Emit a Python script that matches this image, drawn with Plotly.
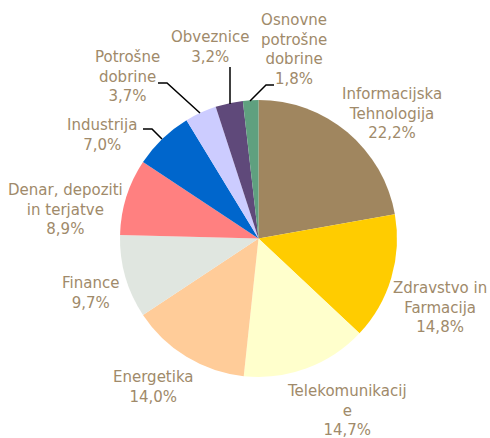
import plotly.graph_objects as go

# ---- data ----
categories = [
    "Informacijska Tehnologija",
    "Zdravstvo in Farmacija",
    "Telekomunikacije",
    "Energetika",
    "Finance",
    "Denar, depoziti in terjatve",
    "Industrija",
    "Potrošne dobrine",
    "Obveznice",
    "Osnovne potrošne dobrine",
]
values = [22.2, 14.8, 14.7, 14.0, 9.7, 8.9, 7.0, 3.7, 3.2, 1.8]
label_lines = [
    "Informacijska<br>Tehnologija",
    "Zdravstvo in<br>Farmacija",
    "Telekomunikacij<br>e",
    "Energetika",
    "Finance",
    "Denar, depoziti<br>in terjatve",
    "Industrija",
    "Potrošne<br>dobrine",
    "Obveznice",
    "Osnovne<br>potrošne<br>dobrine",
]

# ---- style ----
colors = ["#A0865F", "#FFCC00", "#FFFFCC", "#FFCC99", "#E0E6E0",
          "#FF8080", "#0066CC", "#CCCCFF", "#5F497A", "#5FA07F"]
text_color = "#A08A6A"
W, H = 490, 438

def px(x):
    return x / W

def py(y):
    return 1 - y / H

# label centre positions (pixels)
label_pos = [(392, 114), (440, 307), (347, 410), (153, 387), (90, 293),
             (65, 209), (102, 135), (127, 77), (210, 47), (294, 50)]

# leader lines (pixels)
leaders = [
    [(250, 101), (266, 85), (274, 85)],
    [(230, 104), (230, 67)],
    [(200, 113), (167, 83), (158, 83)],
    [(162, 139), (152, 129), (143, 129)],
]

fig = go.Figure(go.Pie(
    labels=categories,
    values=values,
    sort=False,
    direction="clockwise",
    rotation=0,
    marker=dict(colors=colors, line=dict(width=0)),
    textinfo="none",
    hoverinfo="label+percent",
    domain=dict(x=[px(119), px(398)], y=[py(377), py(100)]),
    showlegend=False,
))

annotations = []
for txt, v, (x, y) in zip(label_lines, values, label_pos):
    annotations.append(dict(
        x=px(x), y=py(y), xref="paper", yref="paper",
        text=f"{txt}<br>{v:.1f}%".replace(".", ","),
        showarrow=False, xanchor="center", yanchor="middle", align="center",
        font=dict(family="DejaVu Sans", size=15, color=text_color),
    ))

shapes = []
for pts in leaders:
    path = "M " + " L ".join(f"{px(x)},{py(y)}" for x, y in pts)
    shapes.append(dict(type="path", path=path, xref="paper", yref="paper",
                       line=dict(color="black", width=1.5)))

fig.update_layout(
    width=W, height=H,
    margin=dict(l=0, r=0, t=0, b=0),
    paper_bgcolor="white", plot_bgcolor="white",
    annotations=annotations,
    shapes=shapes,
)

fig.write_html("out.html", config={"displayModeBar": False},
               post_script="document.body.style.margin='0';document.body.style.overflow='hidden';")
